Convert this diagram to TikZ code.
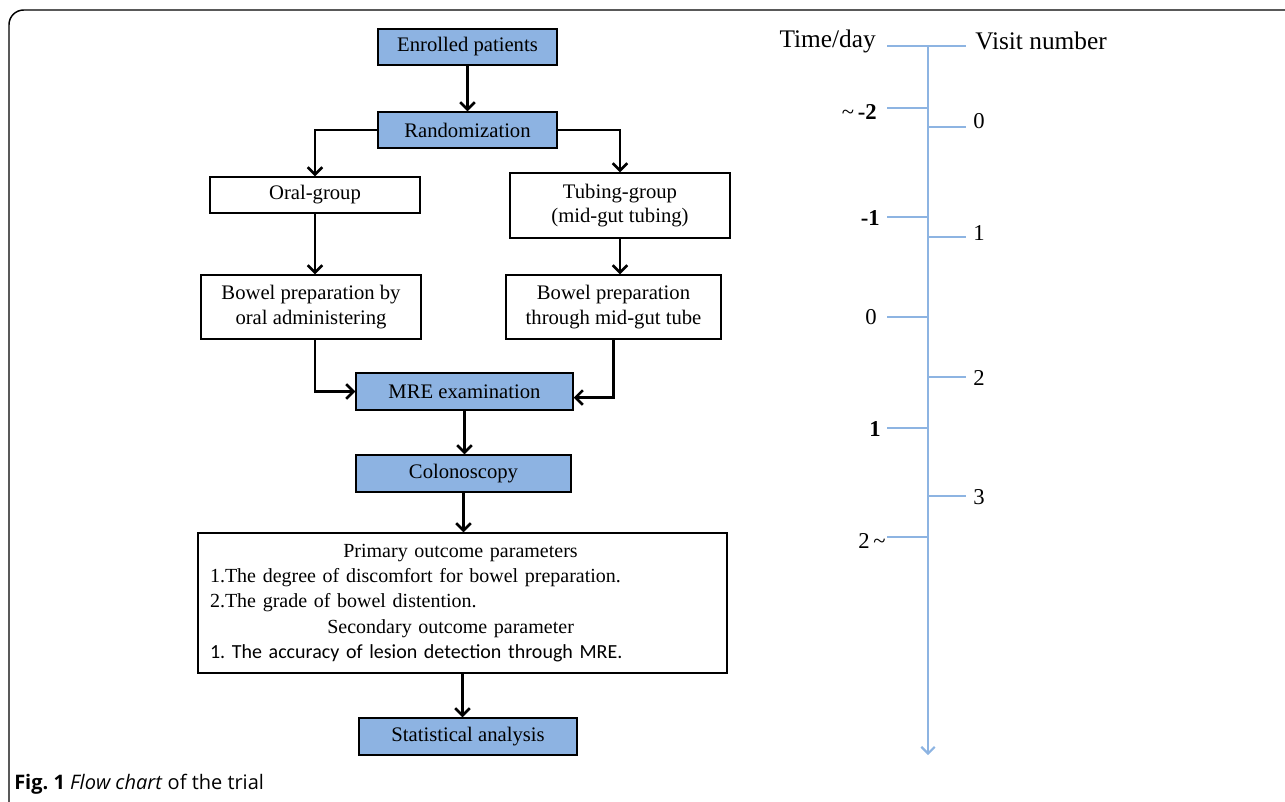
\documentclass[tikz,border=0pt]{standalone}
\usepackage{fontspec}
\setmainfont{Liberation Serif}
\newfontfamily\capfont{Open Sans}
\newfontfamily\calfont{Carlito}
\usetikzlibrary{arrows.meta,calc}
\definecolor{boxblue}{HTML}{8DB3E2}
\definecolor{lineblue}{HTML}{8DB4E2}
\frenchspacing
\begin{document}
\begin{tikzpicture}[x=0.75pt,y=-0.75pt,
  bluebox/.style={draw, line width=1.1pt, fill=boxblue, inner sep=0pt, align=center, font=\fontsize{15.5}{18}\selectfont},
  whitebox/.style={draw, line width=1.1pt, fill=white, inner sep=0pt, align=center, font=\fontsize{15.5}{18.5}\selectfont},
  arr/.style={line width=1.9pt, -{Straight Barb[length=5.5pt,width=11pt,line width=1.9pt]}},
  tl/.style={line width=2.1pt, draw=lineblue},
  tlab/.style={font=\fontsize{17}{17}\selectfont, inner sep=0pt},
  hlab/.style={font=\fontsize{19}{19}\selectfont, inner sep=0pt}]
\useasboundingbox (0,0) rectangle (1285,801);
\begin{scope}
\clip (0,0) rectangle (1285,801);
\draw[line width=1.1pt, rounded corners=11pt] (9,10) rectangle (1320,840);
\end{scope}
% flowchart
\node[bluebox, minimum width=134.25pt, minimum height=27pt] (enr) at (467.5,47) {Enrolled patients};
\node[bluebox, minimum width=134.25pt, minimum height=27pt] (rand) at (467.5,130) {Randomization};
\node[whitebox, minimum width=157.5pt, minimum height=27pt] (oral) at (315,195) {Oral-group};
\node[whitebox, minimum width=165pt, minimum height=48.75pt] (tub) at (620,205.5) {Tubing-group\\(mid-gut tubing)};
\node[whitebox, minimum width=165pt, minimum height=48pt] (bo) at (311,307) {Bowel preparation by\\oral administering};
\node[whitebox, minimum width=161.25pt, minimum height=48pt] (bt) at (613.5,307) {Bowel preparation\\through mid-gut tube};
\node[bluebox, minimum width=162.75pt, minimum height=27.75pt] (mre) at (464.5,391.5) {MRE examination};
\node[bluebox, minimum width=161.25pt, minimum height=27.75pt] (col) at (463.5,473.5) {Colonoscopy};
\node[whitebox, minimum width=396.75pt, minimum height=105pt, text width=378.75pt, align=left, font=\fontsize{15}{19}\selectfont] (out) at (462.5,603) {%
\hspace*{100pt}Primary outcome parameters\\
1.The degree of discomfort for bowel preparation.\\
2.The grade of bowel distention.\\
\hspace*{88pt}Secondary outcome parameter\\
{\calfont 1. The accuracy of lesion detection through MRE.}};
\node[bluebox, minimum width=163.5pt, minimum height=27.75pt] (stat) at (468,736.5) {Statistical analysis};
\draw[arr] (enr.south) -- (enr.south |- rand.north);
\draw[arr] (rand.west) -| (oral.north);
\draw[arr] (rand.east) -| (tub.north);
\draw[arr] (oral.south) -- (oral.south |- bo.north);
\draw[arr] (tub.south) -- (tub.south |- bt.north);
\draw[arr] ($(bo.south)+(4,0)$) |- (mre.west);
\draw[arr] (bt.south) |- ($(mre.east)+(0,6)$);
\draw[arr] (mre.south) -- (mre.south |- col.north);
\draw[arr] (col.south) -- (col.south |- out.north);
\draw[arr] (out.south) -- (out.south |- stat.north);
% timeline
\coordinate (ttop) at (928,46);
\coordinate (tbot) at (928,755);
\coordinate (hl) at (887,46);
\coordinate (hr) at (966,46);
\draw[tl, -{Straight Barb[length=5pt,width=10pt,line width=1.6pt]}] (ttop) -- (tbot);
\draw[tl] (hl) -- (hr);
\foreach \y/\n in {108/a,217/b,317/c,428/d,537/e}{
  \coordinate (L\n) at (887,\y);
  \draw[tl] (L\n) -- (L\n -| ttop);
}
\foreach \y/\n in {127/a,237/b,377/c,496/d}{
  \coordinate (R\n) at (966,\y);
  \draw[tl] (R\n -| ttop) -- (R\n);
}
\node[hlab, anchor=east] (timeday) at (876,41) {Time/day};
\node[hlab, anchor=west] (visit) at (975,41) {Visit number};
\node[tlab, anchor=east] (lm2) at (877,112) {{\fontsize{17}{17}\selectfont\textasciitilde}\,\textbf{-2}};
\node[tlab, anchor=east] (lm1) at (880,218) {\textbf{-1}};
\node[tlab, anchor=east] (l0) at (877,317) {0};
\node[tlab, anchor=east] (l1) at (881,429) {\textbf{1}};
\node[tlab, anchor=east] (l2) at (886,541) {2\,{\fontsize{17}{17}\selectfont\textasciitilde}};
\node[tlab, anchor=west] (r0) at (973,121) {0};
\node[tlab, anchor=west] (r1) at (973,233) {1};
\node[tlab, anchor=west] (r2) at (973,378) {2};
\node[tlab, anchor=west] (r3) at (973,497) {3};
% caption
\node[anchor=base west, inner sep=0pt, font=\capfont\fontsize{15}{18}\selectfont] (cap) at (14,789) {\textbf{Fig. 1} \textit{Flow chart} of the trial};
\end{tikzpicture}
\end{document}
